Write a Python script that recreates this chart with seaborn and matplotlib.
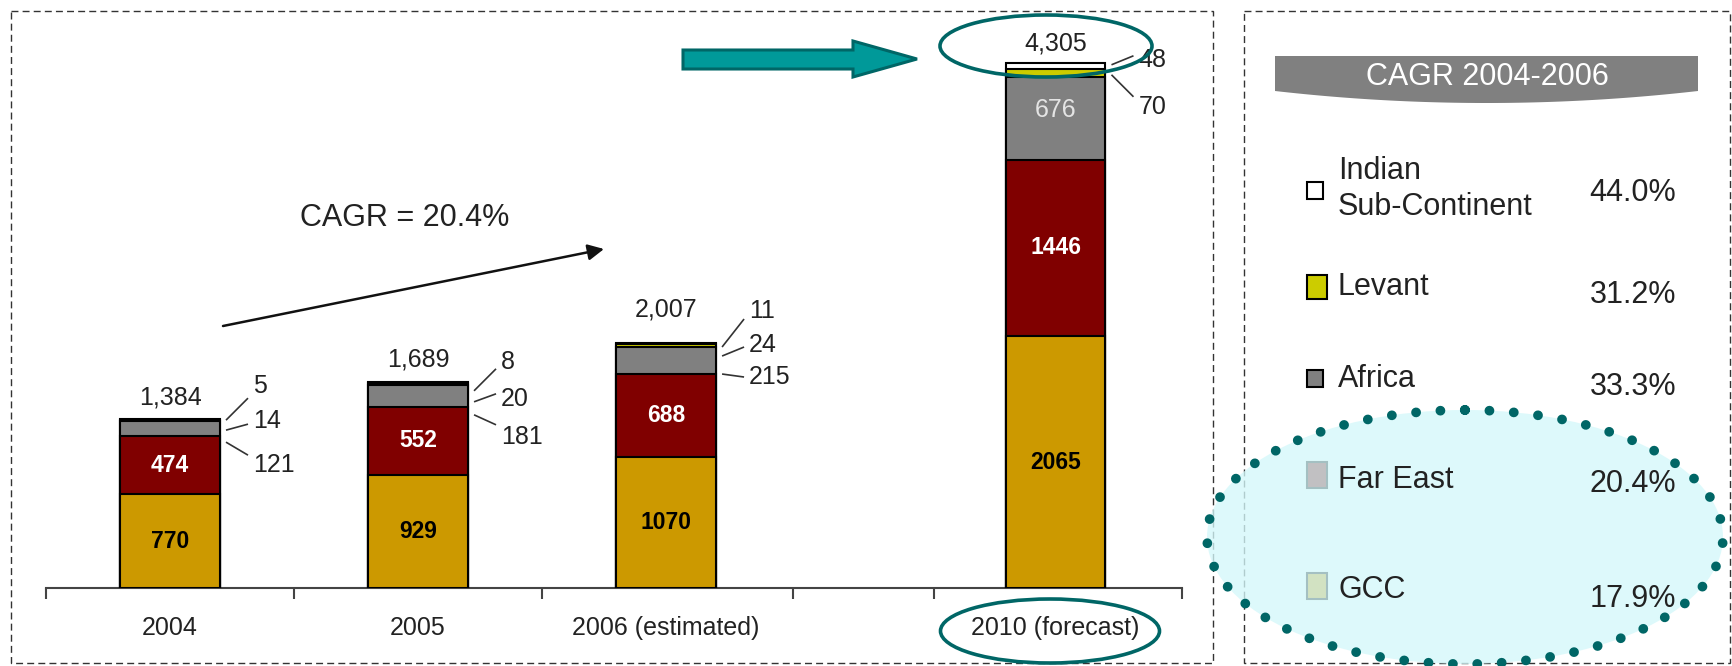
import numpy as np
import pandas as pd
import matplotlib
matplotlib.use("Agg")
import matplotlib.pyplot as plt
from matplotlib.patches import Polygon, Ellipse, Rectangle
import seaborn as sns

# ---------------- data ----------------
years = ["2004", "2005", "2006 (estimated)", "2010 (forecast)"]
gcc = [770, 929, 1070, 2065]
far_east = [474, 552, 688, 1446]
africa = [121, 181, 215, 676]
levant = [14, 20, 24, 70]
indian = [5, 8, 11, 48]
totals = [1384, 1689, 2007, 4305]

legend_names = ["Indian\nSub-Continent", "Levant", "Africa", "Far East", "GCC"]
legend_cagr = [44.0, 31.2, 33.3, 20.4, 17.9]
overall_cagr = 20.4
cagr_title = "CAGR 2004-2006"

# ---------------- style ----------------
sns.set_style("white")
plt.rcParams["font.family"] = ["Liberation Sans", "DejaVu Sans"]

C_GCC = "#CC9900"
C_FAR = "#800000"
C_AFR = "#808080"
C_LEV = "#CCCC00"
C_IND = "#FFFFFF"
TEAL_EDGE = "#006666"
TEAL_FILL = "#009999"
TXT = "#222222"

FIG_W, FIG_H = 1732, 666
AX_L, AX_R, AX_T, AX_B = 46, 1182, 20, 588      # axes box in pixels (from top-left)
PX_PER_UNIT = 0.122
YMAX = (AX_B - AX_T) / PX_PER_UNIT
slot_pos = [0.0, 1.0, 2.0, 3.57]
XMIN, XMAX = -0.5, 4.08
tick_pos = [-0.5, 0.5, 1.5, 2.51, 3.08, 4.08]
BAR_W = 0.403


def dy(px):
    return px * YMAX / (AX_B - AX_T)


def dx(px):
    return px * (XMAX - XMIN) / (AX_R - AX_L)


fig = plt.figure(figsize=(FIG_W / 100, FIG_H / 100), dpi=100)
ax = fig.add_axes([AX_L / FIG_W, (FIG_H - AX_B) / FIG_H,
                   (AX_R - AX_L) / FIG_W, (AX_B - AX_T) / FIG_H])

# ---------------- stacked bars (drawn as overlapping cumulative totals) ----------------
seg = np.array([gcc, far_east, africa, levant, indian], dtype=float)
cum = np.cumsum(seg, axis=0)
layer_colors = [C_GCC, C_FAR, C_AFR, C_LEV, C_IND]
for k in range(4, -1, -1):
    d = pd.DataFrame({"pos": slot_pos, "height": cum[k]})
    sns.barplot(data=d, x="pos", y="height", native_scale=True, orient="x",
                color=layer_colors[k], saturation=1, edgecolor="black",
                linewidth=1.5, width=BAR_W, errorbar=None, ax=ax)

ax.set_xlim(XMIN, XMAX)
ax.set_ylim(0, YMAX)
ax.set_xlabel("")
ax.set_ylabel("")
ax.set_yticks([])
for s in ["left", "right", "top"]:
    ax.spines[s].set_visible(False)
ax.spines["bottom"].set_color("#444444")
ax.spines["bottom"].set_linewidth(1.5)
ax.spines["bottom"].set_zorder(0.5)
ax.set_xticks(tick_pos)
ax.set_xticklabels([])
ax.set_xticks(slot_pos, minor=True)
ax.set_xticklabels(years, minor=True)
ax.tick_params(axis="x", which="major", bottom=True, length=8, width=1.5,
               color="#444444", direction="out")
ax.tick_params(axis="x", which="minor", bottom=True, length=0, pad=20,
               labelsize=18, labelcolor=TXT)
ax.patch.set_alpha(0)

# values inside the bars
for i, x in enumerate(slot_pos):
    ax.text(x, gcc[i] / 2, f"{gcc[i]}", ha="center", va="center",
            fontsize=16.5, fontweight="bold", color="black")
    ax.text(x, gcc[i] + far_east[i] / 2, f"{far_east[i]}", ha="center", va="center",
            fontsize=16.5, fontweight="bold", color="white")
ax.text(slot_pos[3], cum[1][3] + africa[3] / 2 + dy(8), f"{africa[3]}", ha="center",
        va="center", fontsize=18, color="#e4e4e4")

# totals above the bars
total_gap = [22, 22, 34, 19]
for i, x in enumerate(slot_pos):
    ax.text(x, cum[4][i] + dy(total_gap[i]), f"{totals[i]:,}", ha="center",
            va="center", fontsize=18, color=TXT)

# small segment values with leader lines
label_off = [(-33, 2, 46), (-20, 17, 55), (-32, 2, 34), (-3, 44)]
line_start = [(1, 11, 23), (9, 20, 33), (4, 13, 31), (2, 12)]
line_end = [(-21, 5, 36), (-13, 12, 43), (-24, 4, 34), (-7, 34)]
for i, x in enumerate(slot_pos):
    top = cum[4][i]
    right = x + BAR_W / 2
    vals = [indian[i], levant[i], africa[i]]
    n = len(label_off[i])
    for j in range(n):
        ax.plot([right + dx(6), right + dx(28)],
                [top - dy(line_start[i][j]), top - dy(line_end[i][j])],
                color="#333333", lw=1.2, solid_capstyle="butt", clip_on=False)
        ax.text(right + dx(33), top - dy(label_off[i][j]), f"{vals[j]}",
                ha="left", va="center", fontsize=18, color=TXT)

# ---------------- overlay in pixel coordinates ----------------
ov = fig.add_axes([0, 0, 1, 1], zorder=5)
ov.set_xlim(0, FIG_W)
ov.set_ylim(FIG_H, 0)
ov.axis("off")
ov.patch.set_alpha(0)

# dashed panel frames
for (x0, x1) in [(11, 1213), (1244, 1730)]:
    ov.add_patch(Rectangle((x0, 11), x1 - x0, 652, fill=False, edgecolor="#333333",
                           lw=1.0, linestyle=(0, (5, 3))))

# CAGR trend arrow
ov.annotate("", xy=(604, 249), xytext=(223, 326),
            arrowprops=dict(arrowstyle="-|>", lw=1.8, color="#111111",
                            mutation_scale=24, shrinkA=0, shrinkB=0))
ov.text(405, 218, f"CAGR = {overall_cagr:.1f}%", ha="center", va="center",
        fontsize=22, color=TXT)

# teal block arrow pointing at the 2010 total
ov.add_patch(Polygon([(683, 50), (853, 50), (853, 41), (917, 59), (853, 77),
                      (853, 69), (683, 69)], closed=True, facecolor=TEAL_FILL,
                     edgecolor=TEAL_EDGE, lw=2.2, joinstyle="miter"))
ov.add_patch(Ellipse((1046, 46), 212, 62, fill=False, edgecolor=TEAL_EDGE, lw=2.6))
ov.add_patch(Ellipse((1050, 631), 219, 64, fill=False, edgecolor=TEAL_EDGE, lw=2.6))

# legend banner
xs = np.linspace(1698, 1275, 60)
ys = 91 + 12 * (1 - ((xs - 1486.5) / 211.5) ** 2)
banner = [(1275, 56), (1698, 56)] + list(zip(xs, ys))
ov.add_patch(Polygon(banner, closed=True, facecolor="#808080", edgecolor="none"))
ov.text(1487, 77, cagr_title, ha="center", va="center", fontsize=22, color="white")

# legend rows
sq = [(1315, 190, 16, 17, C_IND), (1317, 287, 20, 24, C_LEV), (1315, 378, 16, 17, C_AFR),
      (1317, 475, 20, 26, C_FAR), (1317, 586, 20, 26, C_GCC)]
name_y = [189, 287, 379, 480, 590]
pct_y = [193, 295, 387, 484, 599]
for k in range(5):
    cx, cy, w, h, col = sq[k]
    ov.add_patch(Rectangle((cx - w / 2, cy - h / 2), w, h, facecolor=col,
                           edgecolor="black", lw=1.5))
    ov.text(1338, name_y[k], legend_names[k], ha="left", va="center", fontsize=22,
            color=TXT, linespacing=1.22)
    ov.text(1676, pct_y[k], f"{legend_cagr[k]:.1f}%", ha="right", va="center",
            fontsize=22, color=TXT)

# highlighted region (dotted ellipse)
ov.add_patch(Ellipse((1465, 537), 516, 254, facecolor="#d4f8fa", edgecolor="none",
                     alpha=0.78))
ov.add_patch(Ellipse((1465, 537), 516, 254, fill=False, edgecolor=TEAL_EDGE,
                     lw=7.0, linestyle=(0, (0.01, 2.5)), capstyle="round"))

fig.savefig("out.png", dpi=100)
